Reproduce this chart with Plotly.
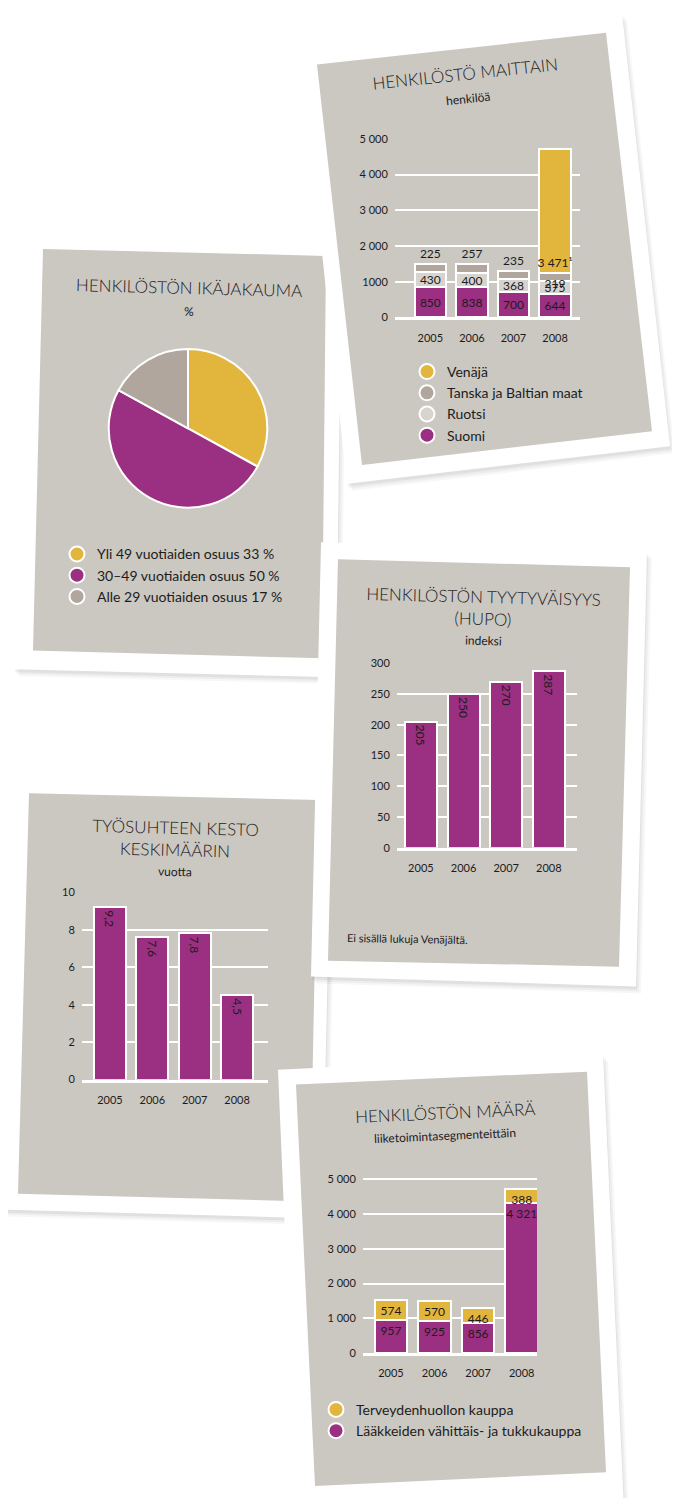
import plotly.graph_objects as go

# page is 680x1506; the html body keeps its 8px margin, so the figure is a bit smaller
PAGE_W, PAGE_H, OFF = 680, 1506, 8
W, H = PAGE_W - 2 * OFF, PAGE_H - 2 * OFF

# --- data -------------------------------------------------------------
years = ["2005", "2006", "2007", "2008"]

# HENKILÖSTÖ MAITTAIN
suomi = [850, 838, 700, 644]
ruotsi = [430, 400, 368, 375]
tanska = [225, 257, 235, 219]
venaja = [None, None, None, 3471]
maat_ticks = [0, 1000, 2000, 3000, 4000, 5000]
maat_ticktext = ["0", "1000", "2 000", "3 000", "4 000", "5 000"]

# HENKILÖSTÖN IKÄJAKAUMA
age_labels = ["Yli 49 vuotiaiden osuus 33 %", "30–49 vuotiaiden osuus 50 %",
              "Alle 29 vuotiaiden osuus 17 %"]
age_share = [33, 50, 17]

# HENKILÖSTÖN TYYTYVÄISYYS (HUPO)
hupo = [205, 250, 270, 287]
hupo_ticks = [0, 50, 100, 150, 200, 250, 300]

# TYÖSUHTEEN KESTO KESKIMÄÄRIN
kesto = [9.2, 7.6, 7.8, 4.5]
kesto_ticks = [0, 2, 4, 6, 8, 10]

# HENKILÖSTÖN MÄÄRÄ
laake = [957, 925, 856, 4321]
terveys = [574, 570, 446, 388]
maara_ticks = [0, 1000, 2000, 3000, 4000, 5000]
maara_ticktext = ["0", "1 000", "2 000", "3 000", "4 000", "5 000"]

PURPLE = "#9B2F81"
YELLOW = "#E2B53D"
TAUPE = "#B0A69E"
PALE = "#D7D3CE"
PANEL = "#CBC7C1"
INK = "#1c1c1c"
FONT = "Lato"


def fx(x):
    return (x - OFF) / W


def fy(y):
    return 1 - (y - OFF) / H


def fi(v):
    if v is None:
        return ""
    if isinstance(v, float):
        return f"{v:.1f}".replace(".", ",")
    s = str(v)
    return s if len(s) < 4 else s[:-3] + " " + s[-3:]


def poly(pts, dx=0, dy=0):
    return "M " + " L ".join(f"{fx(x + dx):.5f},{fy(y + dy):.5f}" for x, y in pts) + " Z"


fig = go.Figure()

# --- cards ------------------------------------------------------------
cards = [
    ([(24, 226), (342, 232), (336, 676), (14, 668)], [(43, 244), (326, 251), (322, 657), (33, 649)]),
    ([(300, 43), (622, 6), (670, 443), (347, 481)], [(317, 58), (606, 26), (652, 428), (362, 462)]),
    ([(12, 776), (332, 782), (322, 1222), (0, 1213)], [(29, 793), (318, 800), (310, 1205), (18, 1197)]),
    ([(321, 540), (647, 549), (636, 988), (311, 978)], [(338, 557), (630, 565), (619, 968), (328, 962)]),
    ([(278, 1072), (603, 1056), (624, 1516), (297, 1526)], [(296, 1087), (587, 1074), (606, 1478), (315, 1492)]),
]
shapes = []
for outer, inner in cards:
    for d, a in [(7, 0.03), (5, 0.04), (3, 0.05)]:
        shapes.append(dict(type="path", path=poly(outer, d - 2, d), xref="paper", yref="paper",
                           fillcolor=f"rgba(0,0,0,{a})", line_width=0, layer="below"))
    shapes.append(dict(type="path", path=poly(outer), xref="paper", yref="paper",
                       fillcolor="white", line_width=0, layer="below"))
    shapes.append(dict(type="path", path=poly(inner), xref="paper", yref="paper",
                       fillcolor=PANEL, line_width=0, layer="below"))

bar_line = dict(color="white", width=2)
txt = dict(family=FONT, size=12, color=INK)

# --- chart 1: stacked by country ---------------------------------------
for vals, col, pos, anchor in [(suomi, PURPLE, "inside", "middle"), (ruotsi, PALE, "inside", "middle"),
                               (tanska, TAUPE, "outside", "middle"), (venaja, YELLOW, "inside", "start")]:
    fig.add_trace(go.Bar(x=years, y=vals, marker=dict(color=col, line=bar_line),
                         text=[fi(v) + ("¹" if v == 3471 else "") for v in vals],
                         textposition=pos, insidetextanchor=anchor, textangle=0, cliponaxis=False,
                         textfont=txt, showlegend=False, xaxis="x", yaxis="y"))
for name, col in [("Venäjä", YELLOW), ("Tanska ja Baltian maat", TAUPE),
                  ("Ruotsi", PALE), ("Suomi", PURPLE)]:
    fig.add_trace(go.Scatter(x=[None], y=[None], mode="markers", name=name, legend="legend",
                             marker=dict(size=15, color=col, line=bar_line), xaxis="x", yaxis="y"))

# --- chart 2: pie --------------------------------------------------------
fig.add_trace(go.Pie(values=age_share, labels=age_labels, sort=False, direction="clockwise",
                     rotation=0, marker=dict(colors=[YELLOW, PURPLE, TAUPE], line=dict(color="white", width=2)),
                     textinfo="none", hoverinfo="label", showlegend=False,
                     domain=dict(x=[fx(108), fx(268)], y=[fy(505), fy(345)])))
for name, col in zip(age_labels, [YELLOW, PURPLE, TAUPE]):
    fig.add_trace(go.Scatter(x=[None], y=[None], mode="markers", name=name, legend="legend2",
                             marker=dict(size=15, color=col, line=bar_line), xaxis="x", yaxis="y"))

# --- chart 3: HUPO -------------------------------------------------------
fig.add_trace(go.Bar(x=years, y=hupo, marker=dict(color=PURPLE, line=bar_line),
                     text=[fi(v) for v in hupo], textposition="inside", insidetextanchor="end",
                     textangle=90, textfont=txt, showlegend=False, xaxis="x2", yaxis="y2"))

# --- chart 4: kesto ------------------------------------------------------
fig.add_trace(go.Bar(x=years, y=kesto, marker=dict(color=PURPLE, line=bar_line),
                     text=[fi(v) for v in kesto], textposition="inside", insidetextanchor="end",
                     textangle=90, textfont=txt, showlegend=False, xaxis="x3", yaxis="y3"))

# --- chart 5: by segment -------------------------------------------------
for vals, col in [(laake, PURPLE), (terveys, YELLOW)]:
    fig.add_trace(go.Bar(x=years, y=vals, marker=dict(color=col, line=bar_line),
                         text=[fi(v) for v in vals], textposition="inside", insidetextanchor="end",
                         textangle=0, textfont=txt, showlegend=False, xaxis="x4", yaxis="y4"))
for name, col in [("Terveydenhuollon kauppa", YELLOW), ("Lääkkeiden vähittäis- ja tukkukauppa", PURPLE)]:
    fig.add_trace(go.Scatter(x=[None], y=[None], mode="markers", name=name, legend="legend3",
                             marker=dict(size=15, color=col, line=bar_line), xaxis="x", yaxis="y"))


def xax(x0, x1, anchor, rng):
    return dict(domain=[fx(x0), fx(x1)], anchor=anchor, type="category", range=rng,
                showgrid=False, showline=True, linecolor="white", linewidth=3,
                ticks="outside", ticklen=8, tickcolor="rgba(0,0,0,0)",
                tickfont=dict(family=FONT, size=11, color=INK), fixedrange=True)


def yax(y0, y1, anchor, rng, vals, text):
    return dict(domain=[fy(y1), fy(y0)], anchor=anchor, range=rng, tickvals=vals, ticktext=text,
                showgrid=True, gridcolor="white", gridwidth=1.5, zeroline=False, showline=False,
                ticks="outside", ticklen=4, tickcolor="rgba(0,0,0,0)",
                tickfont=dict(family=FONT, size=11, color=INK), fixedrange=True)


def leg(x, y):
    return dict(x=fx(x), y=fy(y), xanchor="left", yanchor="top", bgcolor="rgba(0,0,0,0)",
                font=dict(family=FONT, size=14, color=INK), tracegroupgap=0,
                itemsizing="trace", traceorder="normal")


def note(text, x, y, size, angle=0, anchor="center", weight=400):
    return dict(text=text, x=fx(x), y=fy(y), xref="paper", yref="paper", showarrow=False,
                xanchor=anchor, yanchor="middle", textangle=angle,
                font=dict(family=FONT, size=size, color=INK, weight=weight))


annotations = [
    note("HENKILÖSTÖ MAITTAIN", 465, 67, 17, -6, weight=300),
    note("henkilöä", 468, 92, 12, -6),
    note("HENKILÖSTÖN IKÄJAKAUMA", 189, 283, 17, 1.5, weight=300),
    note("%", 189, 307, 12, 1.5),
    note("HENKILÖSTÖN TYYTYVÄISYYS<br>(HUPO)", 483, 606, 17, 1.5, weight=300),
    note("indeksi", 483, 639, 12, 1.5),
    note("Ei sisällä lukuja Venäjältä.", 345, 940, 11, 1, "left"),
    note("TYÖSUHTEEN KESTO<br>KESKIMÄÄRIN", 175, 839, 17, 1.5, weight=300),
    note("vuotta", 175, 872, 12, 1.5),
    note("HENKILÖSTÖN MÄÄRÄ", 445, 1115, 17, -2.5, weight=300),
    note("liiketoimintasegmenteittäin", 445, 1138, 12, -2.5),
]

fig.update_layout(
    width=W, height=H, autosize=False, margin=dict(l=0, r=0, t=0, b=0),
    paper_bgcolor="white", plot_bgcolor="rgba(0,0,0,0)",
    barmode="stack", bargap=0.25,
    uniformtext=dict(minsize=12, mode="show"),
    shapes=shapes, annotations=annotations,
    xaxis=xax(395, 580, "y", [-0.85, 3.6]),
    yaxis=yax(133, 313, "x", [0, 5000], maat_ticks, maat_ticktext),
    xaxis2=xax(397, 577, "y2", [-0.56, 3.66]),
    yaxis2=yax(662, 848, "x2", [0, 300], hupo_ticks, [str(v) for v in hupo_ticks]),
    xaxis3=xax(82, 268, "y3", [-0.66, 3.73]),
    yaxis3=yax(893, 1082, "x3", [0, 10], kesto_ticks, [str(v) for v in kesto_ticks]),
    xaxis4=xax(363, 537, "y4", [-0.64, 3.35]),
    yaxis4=yax(1177, 1358, "x4", [0, 5150], maara_ticks, maara_ticktext),
    legend=leg(407, 352),
    legend2=leg(57, 536),
    legend3=leg(316, 1399),
    hovermode=False,
)

fig.write_html("out.html")
